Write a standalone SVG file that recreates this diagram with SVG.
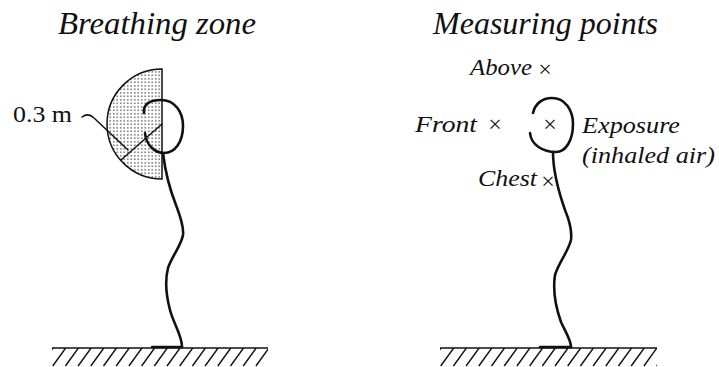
<svg xmlns="http://www.w3.org/2000/svg" width="719" height="367" viewBox="0 0 719 367">
  <defs>
    <pattern id="stipple" width="3.5" height="3.5" patternUnits="userSpaceOnUse">
      <circle cx="1.75" cy="1.75" r="0.75" fill="#222"/>
    </pattern>
    <clipPath id="groundLeft"><rect x="52" y="348" width="216" height="19"/></clipPath>
    <clipPath id="groundRight"><rect x="440" y="348" width="217" height="19"/></clipPath>
  </defs>
  <style>
    .title { font-family: "Liberation Serif", "Times New Roman", serif; font-style: italic; font-size: 31px; fill: #111; }
    .label { font-family: "Liberation Serif", "Times New Roman", serif; font-style: italic; font-size: 24px; fill: #111; }
    .plain { font-family: "Liberation Serif", "Times New Roman", serif; font-size: 24px; fill: #111; }
    .mark { font-family: "Liberation Serif", "Times New Roman", serif; font-size: 24px; fill: #111; text-anchor: middle; }
    .body { fill: none; stroke: #111; stroke-width: 2.6; stroke-linecap: round; stroke-linejoin: round; }
    .thin { fill: none; stroke: #111; stroke-width: 1.5; stroke-linecap: round; }
    .ground { fill: none; stroke: #111; stroke-width: 1.6; }
    .hatch { fill: none; stroke: #111; stroke-width: 1.4; }
  </style>
  <rect width="719" height="367" fill="#fff"/>

  <!-- Left panel: breathing zone -->
  <g id="breathing-zone">
    <text class="title" x="58" y="34" textLength="198" lengthAdjust="spacingAndGlyphs">Breathing zone</text>
    <!-- hemisphere of 0.3 m radius in front of the face -->
    <path d="M162,69 A55,55 0 0 0 162,179 Z" fill="url(#stipple)" stroke="#111" stroke-width="1.5"/>
    <line class="thin" x1="162" y1="124" x2="121" y2="160"/>
    <path class="thin" d="M82,117 C86,114 90,114 94,118 L128,150"/>
    <text class="plain" x="13" y="122" textLength="59" lengthAdjust="spacingAndGlyphs">0.3 m</text>
    <!-- head -->
    <path class="body" d="M144,113 C143,104 150,100 161,100 C175,100 183,112 183,126 C183,142 175,153 164,153 C155,153 146,145 145,133"/>
    <!-- body -->
    <path class="body" d="M163,153 C165,170 170,190 176,205 C181,218 184,227 183,235 C181,246 172,256 168,268 C165,280 166,295 170,310 C174,325 182,335 182,347"/>
    <path class="body" d="M152,347 L182,347" stroke-width="3"/>
    <!-- floor -->
    <line class="ground" x1="52" y1="348" x2="268" y2="348"/>
    <g clip-path="url(#groundLeft)" class="hatch">
      <path d="M40,366 l13,-18 M52.7,366 l13,-18 M65.4,366 l13,-18 M78.1,366 l13,-18 M90.8,366 l13,-18 M103.5,366 l13,-18 M116.2,366 l13,-18 M128.9,366 l13,-18 M141.6,366 l13,-18 M154.3,366 l13,-18 M167,366 l13,-18 M179.7,366 l13,-18 M192.4,366 l13,-18 M205.1,366 l13,-18 M217.8,366 l13,-18 M230.5,366 l13,-18 M243.2,366 l13,-18 M255.9,366 l13,-18 M268.6,366 l13,-18"/>
    </g>
  </g>

  <!-- Right panel: measuring points -->
  <g id="measuring-points">
    <text class="title" x="433" y="34" textLength="225" lengthAdjust="spacingAndGlyphs">Measuring points</text>
    <text class="label" x="470" y="75" textLength="62" lengthAdjust="spacingAndGlyphs">Above</text>
    <text class="mark" x="545" y="77">×</text>
    <text class="label" x="415" y="132" textLength="62" lengthAdjust="spacingAndGlyphs">Front</text>
    <text class="mark" x="495" y="132">×</text>
    <text class="mark" x="550" y="132">×</text>
    <text class="label" x="582" y="133" textLength="98" lengthAdjust="spacingAndGlyphs">Exposure</text>
    <text class="label" x="582" y="163" textLength="133" lengthAdjust="spacingAndGlyphs">(inhaled air)</text>
    <text class="label" x="478" y="186" textLength="59" lengthAdjust="spacingAndGlyphs">Chest</text>
    <text class="mark" x="548" y="189">×</text>
    <!-- head -->
    <path class="body" d="M533,113 C535,104 542,98 552,98 C565,98 573,110 573,124 C573,140 566,152 556,152 C543,152 531,145 530,133"/>
    <!-- body -->
    <path class="body" d="M553,152 C553,170 558,190 565,210 C570,222 572,232 571,240 C568,252 559,262 555,275 C553,288 555,305 561,322 C566,333 571,340 571,347"/>
    <path class="body" d="M540,347 L571,347" stroke-width="3"/>
    <!-- floor -->
    <line class="ground" x1="440" y1="348" x2="657" y2="348"/>
    <g clip-path="url(#groundRight)" class="hatch">
      <path d="M428,366 l13,-18 M440.7,366 l13,-18 M453.4,366 l13,-18 M466.1,366 l13,-18 M478.8,366 l13,-18 M491.5,366 l13,-18 M504.2,366 l13,-18 M516.9,366 l13,-18 M529.6,366 l13,-18 M542.3,366 l13,-18 M555,366 l13,-18 M567.7,366 l13,-18 M580.4,366 l13,-18 M593.1,366 l13,-18 M605.8,366 l13,-18 M618.5,366 l13,-18 M631.2,366 l13,-18 M643.9,366 l13,-18 M656.6,366 l13,-18"/>
    </g>
  </g>
</svg>
